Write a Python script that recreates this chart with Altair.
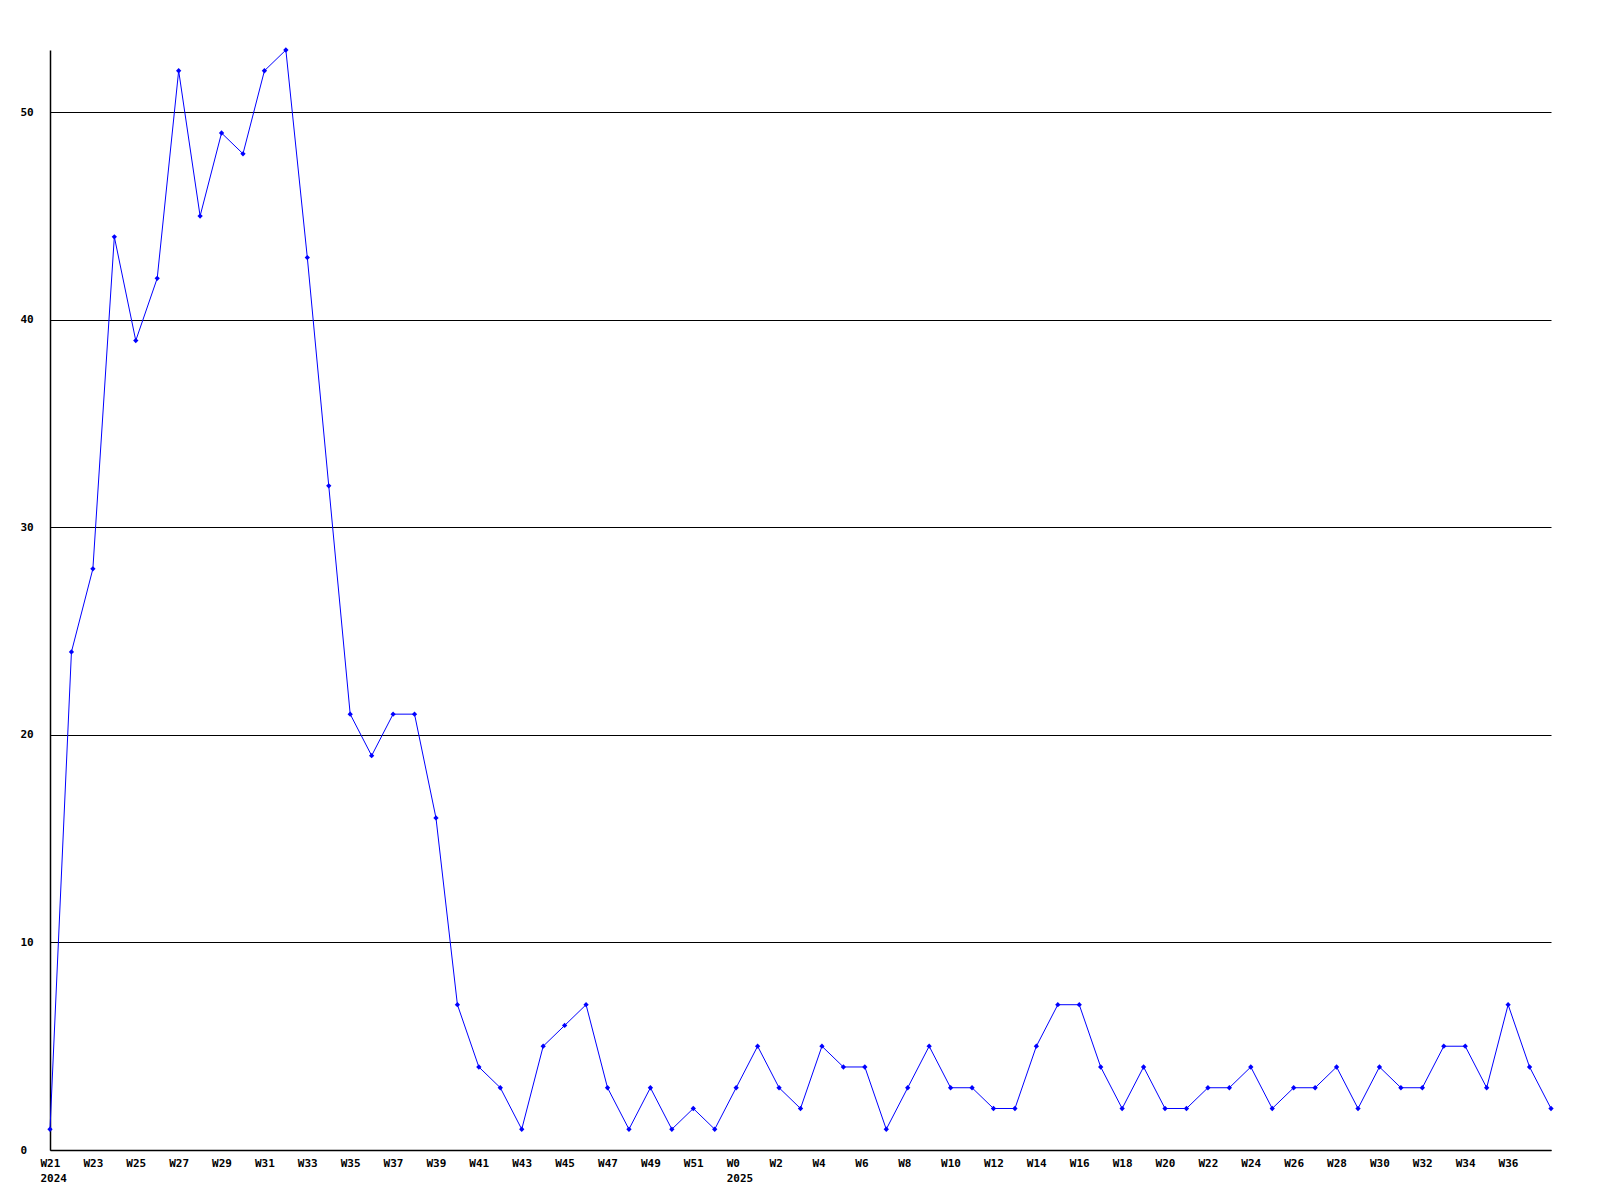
import altair as alt
import pandas as pd
import json

weeks = [f"W{w}" for w in range(21, 53)] + [f"W{w}" for w in range(0, 39)]
years = [2024] * 32 + [2025] * 39
values = [1, 24, 28, 44, 39, 42, 52, 45, 49, 48, 52, 53, 43, 32, 21, 19, 21, 21, 16, 7,
          4, 3, 1, 5, 6, 7, 3, 1, 3, 1, 2, 1,
          3, 5, 3, 2, 5, 4, 4, 1, 3, 5, 3, 3, 2, 2, 5, 7, 7, 4, 2, 4, 2, 2, 3, 3,
          4, 2, 3, 3, 4, 2, 4, 3, 3, 5, 5, 3, 7, 4, 2]
y_ticks = [0, 10, 20, 30, 40, 50]

df = pd.DataFrame({"i": list(range(len(weeks))), "week": weeks, "year": years, "v": values})

labels = {}
prev_year = None
for i, (w, y) in enumerate(zip(weeks, years)):
    labels[i] = [w, str(y)] if y != prev_year else [w]
    prev_year = y
tick_idx = [i for i in range(len(weeks)) if i % 2 == 0 and i < len(weeks) - 1]
label_map = json.dumps({str(k): v for k, v in labels.items()})

font = "DejaVu Sans Mono"

x = alt.X("i:Q", scale=alt.Scale(domain=[0, len(weeks) - 1], nice=False, zero=False),
          axis=alt.Axis(values=tick_idx, labelExpr=f"{label_map}[''+datum.value]",
                        ticks=False, grid=False, title=None, domainColor="black",
                        domainWidth=1.5, labelAlign="left", labelOffset=-10, labelBaseline="top",
                        labelPadding=7, labelLineHeight=15, labelFont=font, labelFontWeight="bold",
                        labelFontSize=11, labelColor="black", labelOverlap=False, labelFlush=False))
y = alt.Y("v:Q", scale=alt.Scale(domain=[0, 53], nice=False),
          axis=alt.Axis(values=y_ticks, ticks=False, grid=True, gridColor="black", gridWidth=1,
                        gridOpacity=1, title=None, domainColor="black", domainWidth=1.5,
                        labelAlign="left", labelPadding=30, labelFont=font, labelFontWeight="bold",
                        labelFontSize=11, labelColor="black", labelBaseline="middle"))

line = alt.Chart(df).mark_line(color="#0000ff", strokeWidth=1).encode(x=x, y=y)
pts = alt.Chart(df).mark_point(shape="diamond", filled=True, color="#0000ff", size=28, opacity=1).encode(x=x, y=y)

chart = (line + pts).properties(
    width=1501, height=1100,
    background="white",
    autosize=alt.AutoSizeParams(type="none"),
    padding={"left": 42, "top": 42, "right": 40, "bottom": 40},
).configure_view(strokeWidth=0)

chart.save("out.html", embed_options={"renderer": "svg", "actions": False})
